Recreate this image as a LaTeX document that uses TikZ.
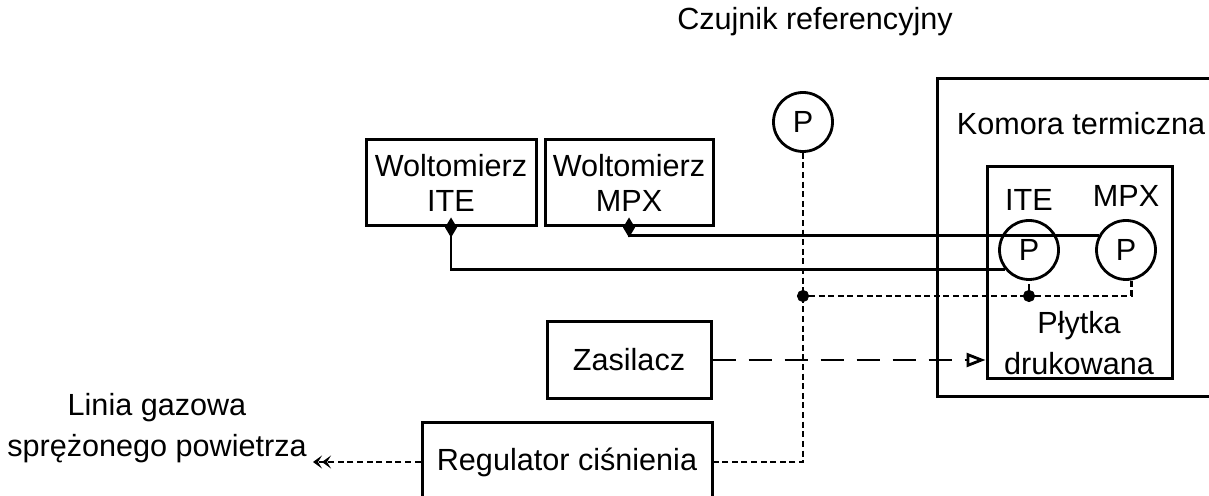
\documentclass[tikz,border=0pt]{standalone}
\usepackage{fontspec}
\setmainfont{Liberation Sans}
\usetikzlibrary{arrows.meta,positioning}

\begin{document}
\begin{tikzpicture}
	[x=0.5pt,y=-0.5pt,font=\fontsize{15.3}{17.5}\selectfont,
	box/.style={draw,line width=1.5pt,align=center,inner sep=0pt},
	czuj/.style={circle,draw,line width=1.4pt,minimum size=29.5pt,inner sep=0pt},
	nn/.style={circle,fill,draw=black,inner sep=2pt},
	wire/.style={line width=1.2pt},
	gas/.style={line width=1.4pt,dash pattern=on 3pt off 1.8pt},
	zas/.style={line width=1.4pt,dash pattern=on 11.5pt off 6.5pt}]
	\useasboundingbox (0,0) rectangle (1209,496);
	%%%%% KOMORA TERMICZNA
	\draw[line width=1.5pt] (1240,79) -- (937,79) -- (937,396) -- (1240,396);
	\node (komora) at (1081,124) {Komora termiczna};
	\node[box,minimum width=92.5pt,minimum height=106pt] (plytka) at (1079.5,273) {};
	\node[align=center] (plytkatxt) at (1079,343) {Płytka\\[3pt]drukowana};
	\foreach \nm/\x/\lbl/\ly in {pite/1029/ITE/200,pmpx/1126/MPX/196}
	{
	\node[czuj] (\nm) at (\x,250) {P};
	\node (\nm lbl) at (\x,\ly) {\lbl};
	};
	%%%%% CZUJNIK REFERENCYJNY
	\node[czuj] (pref) at (803,122) {P};
	\node (czujnik) at (815,22) {Czujnik referencyjny};
	%%%%% WOLTOMIERZE
	\node[box,minimum width=85pt,minimum height=43pt] (wite) at (451,183) {Woltomierz\\ITE};
	\node[box,minimum width=84pt,minimum height=43pt] (wmpx) at (629,183) {Woltomierz\\MPX};
	\draw[wire,{Diamond[length=10pt,width=6pt]}-,shorten <=-5pt] (wite.south) |- (pite.219);
	\draw[wire,{Diamond[length=10pt,width=6pt]}-,shorten <=-5pt] (wmpx.south) |- (pmpx.152);
	%%%%% ZASILACZ I REGULATOR
	\node[box,minimum width=82pt,minimum height=38.5pt] (zas) at (629,360) {Zasilacz};
	\node[box,minimum width=145pt,minimum height=40pt] (reg) at (567,462) {Regulator ciśnienia};
	\draw[zas,-{Triangle[open,length=9.5pt,width=7pt]}] (zas.east) -- (zas.east -| plytka.west);
	%%%%% LINIA GAZOWA
	\node[align=center] (linia) at (157,428) {Linia gazowa\\[3pt]sprężonego powietrza};
	\coordinate (gaskon) at (313,462);
	\node[nn] (j1) at (803,296) {};
	\node[nn] (j2) at (1029,296) {};
	\draw[gas] (pref.south) |- (reg.east);
	\draw[gas] (j1) -- (j2) -| (pmpx.-80);
	\draw[gas] (j2) -- (pite.south);
	\draw[gas,-{Stealth[length=4.5pt,width=6.5pt,inset=2pt] Stealth[length=4.5pt,width=6.5pt,inset=2pt]}] (reg.west) -- (gaskon);
\end{tikzpicture}
\end{document}
